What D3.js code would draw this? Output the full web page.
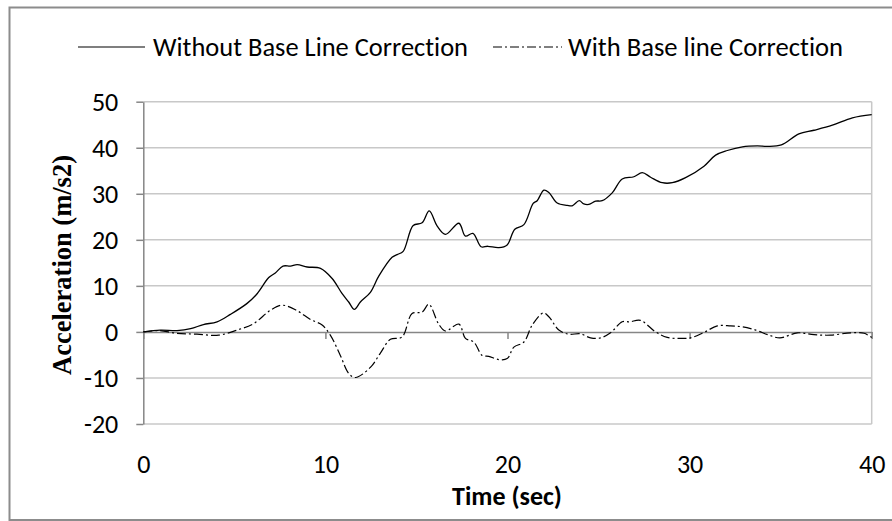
<!DOCTYPE html>
<html>
<head>
<meta charset="utf-8">
<script src="https://cdn.jsdelivr.net/npm/d3@7"></script>
<style>
  html, body { margin: 0; padding: 0; background: #fff; }
  svg { display: block; }
  text { font-variant-ligatures: none; }
</style>
</head>
<body>
<svg id="chart" width="892" height="521"></svg>
<script>
// Acceleration record before and after base line correction
const seriesNames = ["Without Base Line Correction", "With Base line Correction"];

const rawTime = [0, 0.93, 1.85, 2.6, 3.3, 4.05, 4.78, 5.7, 6.25, 6.89,
  7.25, 7.67, 8.08, 8.45, 9.0, 9.73, 10.37, 10.92, 11.28, 11.59,
  11.92, 12.47, 12.93, 13.66, 13.94, 14.27, 14.82, 15.31, 15.7, 16.14,
  16.59, 17.33, 17.69, 18.1, 18.55, 18.92, 19.52, 19.98, 20.4, 20.9,
  21.41, 21.63, 22.0, 22.27, 22.73, 23.28, 23.55, 23.94, 24.19, 24.47,
  24.84, 25.2, 25.75, 26.3, 26.94, 27.4, 27.86, 28.5, 29.05, 29.78,
  30.79, 31.43, 32.07, 32.9, 33.72, 34.27, 35.04, 36.0, 36.83, 37.84,
  38.94, 40];
const rawAccel = [0, 0.4, 0.3, 0.7, 1.6, 2.2, 3.8, 6.2, 8.3, 11.8,
  12.8, 14.3, 14.3, 14.6, 14.1, 13.8, 11.6, 8.3, 6.5, 4.9,
  6.5, 8.6, 12.1, 16.2, 16.8, 17.5, 23.1, 23.7, 26.3, 23.0,
  21.2, 23.6, 20.8, 21.4, 18.5, 18.6, 18.3, 18.9, 22.3, 23.3,
  27.9, 28.5, 30.8, 30.3, 28.0, 27.5, 27.4, 28.5, 27.8, 27.7,
  28.4, 28.5, 30.2, 33.2, 33.7, 34.6, 33.6, 32.4, 32.4, 33.5,
  36.0, 38.4, 39.4, 40.2, 40.4, 40.3, 40.6, 43.0, 43.8, 44.9,
  46.5, 47.2];

const correctedTime = [0, 0.8, 1.85, 2.95, 4.14, 5.15, 6.06, 6.98, 7.62, 8.45,
  9.18, 9.82, 10.27, 10.82, 11.28, 11.65, 12.47, 13.02, 13.57, 14.21,
  14.76, 15.31, 15.68, 16.22, 16.59, 17.33, 17.69, 18.15, 18.61, 18.97,
  19.52, 19.98, 20.35, 20.9, 21.36, 21.96, 22.27, 22.82, 23.37, 24.01,
  24.56, 25.11, 25.66, 26.3, 26.72, 27.3, 28.13, 28.77, 29.41, 30.05,
  30.79, 31.52, 32.25, 32.9, 33.63, 34.36, 34.96, 35.92, 36.83, 37.75,
  38.85, 39.58, 40];
const correctedAccel = [0, 0.3, -0.3, -0.5, -0.7, 0.4, 1.8, 4.7, 5.8, 4.6,
  2.7, 1.5, -0.7, -5.1, -9.0, -9.9, -7.7, -4.6, -1.6, -1.1,
  4.0, 4.3, 6.0, 1.7, 0.2, 1.7, -1.4, -2.2, -5.1, -5.3,
  -6.0, -5.8, -3.3, -2.2, 1.5, 4.1, 3.3, 0.4, -0.5, -0.4,
  -1.3, -1.3, -0.2, 2.2, 2.2, 2.5, 0, -1.2, -1.4, -1.3,
  -0.1, 1.3, 1.3, 1.1, 0.4, -0.7, -1.3, -0.2, -0.6, -0.7,
  -0.2, -0.3, -1.2];

const xTicks = [0, 10, 20, 30, 40];
const yTicks = [-20, -10, 0, 10, 20, 30, 40, 50];

const svg = d3.select("#chart");
const labelFont = "Carlito, Calibri, Lato, 'Open Sans', sans-serif";
const plainNumber = d => String(d); // hyphen-minus, as in the spreadsheet labels

// outer chart frame (its right edge runs past the page)
svg.append("rect")
  .attr("x", 9.5).attr("y", 7.5)
  .attr("width", 900).attr("height", 512.5)
  .attr("fill", "none").attr("stroke", "#8c8c8c").attr("stroke-width", 2);

const x = d3.scaleLinear().domain([0, 40]).range([143.3, 871.7]);
const y = d3.scaleLinear().domain([-20, 50]).range([424, 101.7]);

// horizontal gridlines
svg.append("g")
  .selectAll("line")
  .data(yTicks.filter(d => d !== 0))
  .join("line")
  .attr("x1", x(0)).attr("x2", x(40))
  .attr("y1", d => y(d)).attr("y2", d => y(d))
  .attr("stroke", "#c8c8c8").attr("stroke-width", 1.5);

// right edge of the plot area
svg.append("line")
  .attr("x1", x(40)).attr("x2", x(40))
  .attr("y1", y(50)).attr("y2", y(-20))
  .attr("stroke", "#c8c8c8").attr("stroke-width", 1.5);

// y axis
const yAxis = svg.append("g")
  .attr("transform", `translate(${x(0)},0)`)
  .call(d3.axisLeft(y).tickValues(yTicks).tickFormat(plainNumber)
    .tickSize(7).tickPadding(18).tickSizeOuter(0));
yAxis.select(".domain").attr("stroke", "#868686").attr("stroke-width", 1.5);
yAxis.selectAll(".tick line").attr("stroke", "#868686").attr("stroke-width", 1.5);
yAxis.selectAll(".tick text")
  .attr("font-family", labelFont).attr("font-size", 26).attr("fill", "#000");

// x axis crossing at zero, labels set below the plot
const xAxis = svg.append("g")
  .attr("transform", `translate(0,${y(0)})`)
  .call(d3.axisBottom(x).tickValues(xTicks).tickFormat(plainNumber)
    .tickSize(7).tickSizeOuter(0));
xAxis.select(".domain").attr("stroke", "#868686").attr("stroke-width", 1.5);
xAxis.selectAll(".tick line").attr("stroke", "#868686").attr("stroke-width", 1.5);
xAxis.selectAll(".tick text")
  .attr("font-family", labelFont).attr("font-size", 26).attr("fill", "#000")
  .attr("dy", null)
  .attr("y", 473 - y(0));

// series lines
const line = d3.line()
  .x(d => x(d[0]))
  .y(d => y(d[1]))
  .curve(d3.curveCatmullRom.alpha(0.5));

const rawPoints = rawTime.map((t, i) => [t, rawAccel[i]]);
const correctedPoints = correctedTime.map((t, i) => [t, correctedAccel[i]]);

svg.append("path")
  .attr("d", line(correctedPoints))
  .attr("fill", "none").attr("stroke", "#000").attr("stroke-width", 1.2)
  .attr("stroke-dasharray", "9,3,2,3");

svg.append("path")
  .attr("d", line(rawPoints))
  .attr("fill", "none").attr("stroke", "#000").attr("stroke-width", 1.3);

// legend
const legendItems = [
  { name: seriesNames[0], x1: 78, x2: 145, tx: 153, width: 315, dash: null },
  { name: seriesNames[1], x1: 493, x2: 562, tx: 568, width: 275, dash: "9,3,2,3" }
];
const legend = svg.append("g");
legendItems.forEach(item => {
  legend.append("line")
    .attr("x1", item.x1).attr("x2", item.x2)
    .attr("y1", 47).attr("y2", 47)
    .attr("stroke", "#000").attr("stroke-width", 1.2)
    .attr("stroke-dasharray", item.dash);
  legend.append("text")
    .attr("x", item.tx).attr("y", 56)
    .attr("font-family", labelFont).attr("font-size", 26)
    .attr("textLength", item.width).attr("lengthAdjust", "spacingAndGlyphs")
    .text(item.name);
});

// axis titles
svg.append("text")
  .attr("transform", `translate(71,265) rotate(-90)`)
  .attr("text-anchor", "middle")
  .attr("font-family", "'Liberation Serif', 'Times New Roman', serif")
  .attr("font-weight", "bold").attr("font-size", 26.5)
  .text("Acceleration (m/s2)");

svg.append("text")
  .attr("x", 507).attr("y", 505)
  .attr("text-anchor", "middle")
  .attr("font-family", labelFont)
  .attr("font-weight", "bold").attr("font-size", 26)
  .text("Time (sec)");
</script>
</body>
</html>
